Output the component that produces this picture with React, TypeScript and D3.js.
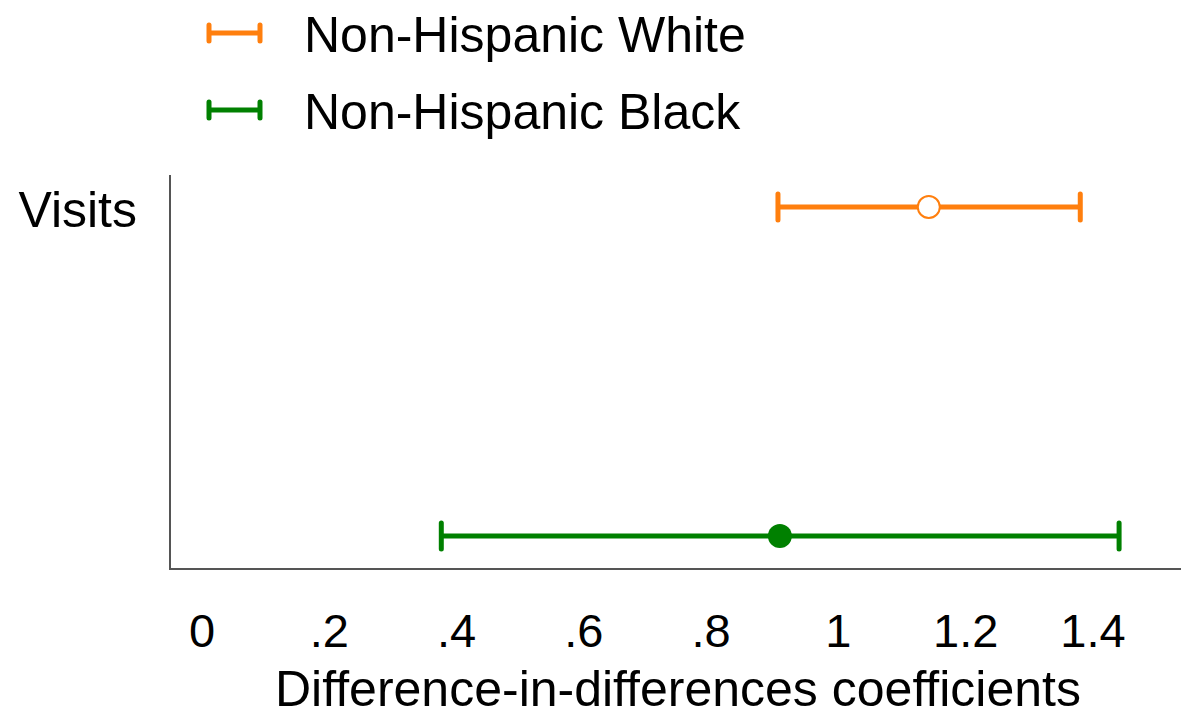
import React from "react";
import * as d3 from "d3";

const groups = ["Non-Hispanic White", "Non-Hispanic Black"];
const colors = ["#ff7f0e", "#008000"];
const estimates = [1.142, 0.908];
const lower = [0.905, 0.376];
const upper = [1.38, 1.441];
const hollow = [true, false];
const rowLabel = "Visits";
const xTicks = [0, 0.2, 0.4, 0.6, 0.8, 1, 1.2, 1.4];
const xTitle = "Difference-in-differences coefficients";

const W = 1181;
const H = 721;
const FONT = "'Liberation Sans', Arial, Helvetica, sans-serif";

export default function App() {
  const x = d3.scaleLinear().domain([0, 1.4]).range([202, 1093]);
  const y = d3.scalePoint<string>().domain(groups).range([207, 536]);
  const fmt = (v: number) => {
    const s = d3.format("~g")(+v.toFixed(2));
    return s.startsWith("0.") ? s.slice(1) : s;
  };
  const axisLeft = 170;
  const axisBottom = 569;
  const capH = 13;

  return (
    <svg
      width={W}
      height={H}
      style={{ position: "absolute", left: 0, top: 0, background: "#fff" }}
      fontFamily={FONT}
    >
      {/* legend */}
      {groups.map((g, i) => {
        const ly = 33 + i * 77;
        return (
          <g key={"leg" + i}>
            <line x1={209} x2={260} y1={ly} y2={ly} stroke={colors[i]} strokeWidth={5} />
            <line x1={209} x2={209} y1={ly - 8} y2={ly + 8} stroke={colors[i]} strokeWidth={5} strokeLinecap="round" />
            <line x1={260} x2={260} y1={ly - 8} y2={ly + 8} stroke={colors[i]} strokeWidth={5} strokeLinecap="round" />
            <text x={304} y={ly + 19} fontSize={50} fill="#000">{g}</text>
          </g>
        );
      })}

      {/* axes */}
      <line x1={axisLeft} x2={axisLeft} y1={175} y2={axisBottom + 1} stroke="#555" strokeWidth={2} />
      <line x1={axisLeft} x2={W} y1={axisBottom} y2={axisBottom} stroke="#555" strokeWidth={2} />

      {/* y label */}
      <text x={137} y={227} fontSize={50} textAnchor="end" fill="#000">{rowLabel}</text>

      {/* x ticks */}
      {xTicks.map((t) => (
        <text key={t} x={x(t)} y={647} fontSize={47} textAnchor="middle" fill="#000">
          {fmt(t)}
        </text>
      ))}
      <text x={678} y={706} fontSize={50} textAnchor="middle" fill="#000">{xTitle}</text>

      {/* error bars */}
      {groups.map((g, i) => {
        const cy = y(g)!;
        return (
          <g key={"bar" + i}>
            <line x1={x(lower[i])} x2={x(upper[i])} y1={cy} y2={cy} stroke={colors[i]} strokeWidth={5} />
            <line x1={x(lower[i])} x2={x(lower[i])} y1={cy - capH} y2={cy + capH} stroke={colors[i]} strokeWidth={5} strokeLinecap="round" />
            <line x1={x(upper[i])} x2={x(upper[i])} y1={cy - capH} y2={cy + capH} stroke={colors[i]} strokeWidth={5} strokeLinecap="round" />
            {hollow[i] ? (
              <circle cx={x(estimates[i])} cy={cy} r={11} fill="#fff" stroke={colors[i]} strokeWidth={2} />
            ) : (
              <circle cx={x(estimates[i])} cy={cy} r={12} fill={colors[i]} />
            )}
          </g>
        );
      })}
    </svg>
  );
}
